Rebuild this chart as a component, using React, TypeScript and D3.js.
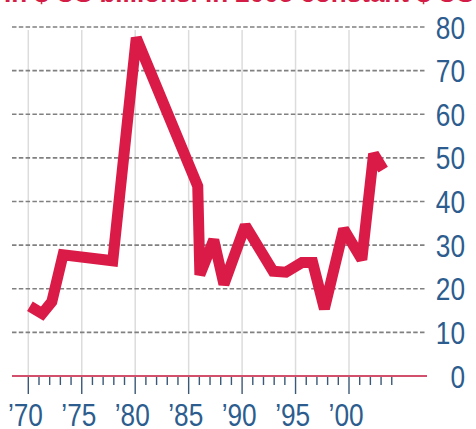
import React from "react";
import * as d3 from "d3";

const years = [1970.15, 1971.3, 1972.2, 1973.25, 1977.9, 1980.1, 1985.85, 1986.05, 1987.35, 1988.3, 1990.3, 1992.9, 1994.1, 1995.6, 1996.6, 1997.7, 1999.5, 2001.2, 2002.3, 2003.2];
const values = [16, 14.3, 17, 27.8, 26.4, 77.5, 43.5, 23.2, 31.2, 21, 34.5, 24, 23.8, 26, 26, 15.4, 33.7, 26.7, 50.9, 47.3];
const yTicks = [0, 10, 20, 30, 40, 50, 60, 70, 80];
const majorYears = [1970, 1975, 1980, 1985, 1990, 1995, 2000];
const majorLabels = ["’70", "’75", "’80", "’85", "’90", "’95", "’00"];
const minorYears = d3.range(1970, 2005);
const title = "In $ US billions. in 2005 constant $ US";

const W = 476;
const H = 429;
const FONT = "'Liberation Sans', Arial, sans-serif";
const SX = 0.82;

export default function App() {
  const x = d3.scaleLinear().domain([1970, 2000]).range([28.3, 349]);
  const y = d3.scaleLinear().domain([0, 80]).range([376, 27]);
  const pts: [number, number][] = years.map((yr, i) => [yr, values[i]]);
  const line = d3
    .line<[number, number]>()
    .x((d) => x(d[0]))
    .y((d) => y(d[1]));

  const gridLeft = 12;
  const gridRight = 425;
  const axisColor = "#2c5d8e";

  return (
    <svg
      width={W}
      height={H}
      style={{ position: "absolute", left: 0, top: 0, background: "#fff" }}
    >
      <text
        x={4}
        y={1.5}
        fill="#d31c46"
        fontFamily={FONT}
        fontWeight="bold"
        fontSize={26}
        textLength={470}
        lengthAdjust="spacingAndGlyphs"
      >
        {title}
      </text>
      {majorYears.map((yr) => (
        <line
          key={"v" + yr}
          x1={x(yr)}
          x2={x(yr)}
          y1={y(80) + 3}
          y2={y(0)}
          stroke="#dcdcdc"
          strokeWidth={1.5}
        />
      ))}
      {yTicks
        .filter((t) => t > 0)
        .map((t) => (
          <line
            key={"h" + t}
            x1={gridLeft}
            x2={gridRight}
            y1={y(t)}
            y2={y(t)}
            stroke="#808080"
            strokeWidth={1.6}
            strokeDasharray="4.5,2.3"
          />
        ))}
      {yTicks.map((t) => (
        <text
          key={"yl" + t}
          transform={`translate(465,${y(t) + 11.5}) scale(${SX},1)`}
          textAnchor="end"
          fill={axisColor}
          fontFamily={FONT}
          fontSize={32}
        >
          {t}
        </text>
      ))}
      {minorYears.map((yr) => (
        <line
          key={"t" + yr}
          x1={x(yr)}
          x2={x(yr)}
          y1={y(0)}
          y2={y(0) + (yr % 5 === 0 ? 18 : 9)}
          stroke="#3b5877"
          strokeWidth={1.4}
        />
      ))}
      <line
        x1={gridLeft}
        x2={427}
        y1={y(0)}
        y2={y(0)}
        stroke="#d2506c"
        strokeWidth={2}
      />
      {majorYears.map((yr, i) => (
        <text
          key={"xl" + yr}
          transform={`translate(${x(yr) + 14.6},426) scale(${SX},1)`}
          textAnchor="end"
          fill={axisColor}
          fontFamily={FONT}
          fontSize={32}
        >
          {majorLabels[i]}
        </text>
      ))}
      <path
        d={line(pts) || ""}
        fill="none"
        stroke="#da1b48"
        strokeWidth={11}
        strokeLinejoin="miter"
        strokeMiterlimit={2}
        strokeLinecap="butt"
      />
    </svg>
  );
}
